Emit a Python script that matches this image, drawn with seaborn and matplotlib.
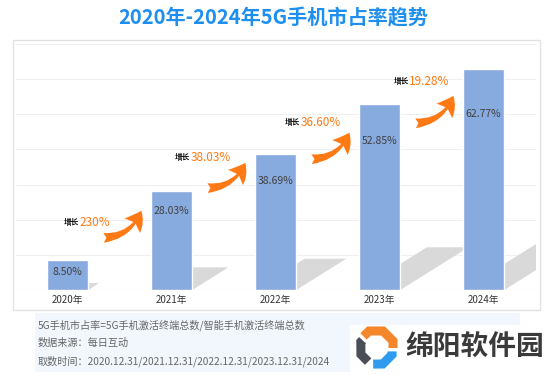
import numpy as np
import pandas as pd
import seaborn as sns
import matplotlib.pyplot as plt
from matplotlib.patches import Polygon, Rectangle, FancyArrowPatch

# ---- data ----
years = ['2020年', '2021年', '2022年', '2023年', '2024年']
share = [8.50, 28.03, 38.69, 52.85, 62.77]
growth = ['230%', '38.03%', '36.60%', '19.28%']
title = '2020年-2024年5G手机市占率趋势'
notes = ['5G手机市占率=5G手机激活终端总数/智能手机激活终端总数',
         '数据来源：每日互动',
         '取数时间：2020.12.31/2021.12.31/2022.12.31/2023.12.31/2024']
brand = '绵阳软件园'

sns.set_theme(style='white')
plt.rcParams['font.family'] = ['Noto Sans CJK SC', 'DejaVu Sans']

W, H = 550, 375
fig = plt.figure(figsize=(W / 100, H / 100), dpi=100)
fig.patch.set_facecolor('white')


def fx(px):
    return px / W


def fy(py):
    return 1 - py / H


# panel border
fig.add_artist(Rectangle((fx(13), fy(310)), (540 - 13) / W, (310 - 40) / H,
                         transform=fig.transFigure, fill=False,
                         ec='#E3E3E3', lw=1, zorder=-1))

ax = fig.add_axes([fx(15.5), fy(290), 520 / W, 246 / H])
df = pd.DataFrame({'year': years, 'share': share})
sns.barplot(data=df, x='year', y='share', color='#88ABDF', saturation=1,
            width=0.4, ax=ax, zorder=3)
ax.set_xlim(-0.5, 4.5)
ax.set_ylim(0, 70)
ax.set_yticks(range(0, 71, 10))
ax.yaxis.grid(True, color='#EFEFEF', lw=0.8)
ax.set_axisbelow(True)
ax.tick_params(left=False, bottom=False, labelleft=False, labelsize=7,
               colors='#333333', pad=3.5, length=0)
for s in ax.spines.values():
    s.set_visible(False)
ax.axhline(0, color='#E2E2E2', lw=0.8, zorder=1)
ax.set_xlabel('')
ax.set_ylabel('')
ax.patch.set_alpha(0)

# cast shadows
for i, v in enumerate(share):
    dx = 0.0124 * v
    dy = 0.23 * v
    poly = Polygon([(i - 0.2, 0), (i + 0.2, 0), (i + 0.2 + dx, dy), (i - 0.2 + dx, dy)],
                   closed=True, fc='#D9D9D9', ec='none', zorder=2)
    ax.add_patch(poly)

# value labels
for i, v in enumerate(share):
    ax.text(i, min(0.8 * v, v - 3.4), f'{v:.2f}%', ha='center', va='center',
            fontsize=7.5, color='#404040', zorder=5)

# growth arrows: (tail y, head y, text y, text split x offset)
layout = [(14.8, 23.3, 19.3, 0.11), (29.0, 36.9, 37.8, 0.18),
          (37.2, 45.5, 47.7, 0.24), (47.4, 56.0, 59.4, 0.28)]
orange = '#FF7A14'
for i, (ty, hy, tey, sx) in enumerate(layout):
    arr = FancyArrowPatch(posA=(i + 0.32, ty), posB=(i + 0.72, hy),
                          arrowstyle='fancy,head_length=0.9,head_width=1.1,tail_width=0.5',
                          connectionstyle='arc3,rad=0.35', mutation_scale=14,
                          color=orange, lw=0, zorder=4)
    ax.add_patch(arr)
    ax.text(i + sx, tey, '增长', ha='right', va='center', fontsize=5.5,
            fontweight='bold', color='#111111', zorder=5)
    ax.text(i + sx + 0.005, tey, growth[i], ha='left', va='center',
            fontsize=8.5, color=orange, zorder=5)

# title
fig.text(fx(273), fy(18), title, ha='center', va='center', fontsize=14.5,
         fontweight='bold', color='#1E8FEF')

# notes box
fig.add_artist(Rectangle((fx(35), fy(372)), (520 - 35) / W, 59 / H,
                         transform=fig.transFigure, fc='#F1F7FC', ec='none',
                         zorder=-1))
for k, (t, y) in enumerate(zip(notes, [325, 343, 361])):
    fig.text(fx(38), fy(y), t, ha='left', va='center', fontsize=7.3,
             color='#666666')

# brand logo
fig.add_artist(Rectangle((fx(350), fy(375)), 200 / W, 50 / H,
                         transform=fig.transFigure, fc='white', ec='none',
                         zorder=-0.5))
lax = fig.add_axes([fx(353), fy(371), 46 / W, 46 / H])
lax.set_zorder(2)
lax.set_xlim(-1, 1)
lax.set_ylim(-1, 1)
lax.axis('off')


def octa(a0, a1, r=0.72):
    th = np.linspace(a0, a1, 300)
    d = ((th + 22.5) % 45) - 22.5
    rr = r / np.cos(np.radians(d))
    return rr * np.cos(np.radians(th)), rr * np.sin(np.radians(th))


for (a0, a1, c, r) in [(137, 0, '#F5862A', 0.74), (150, 240, '#4A4F57', 0.66),
                       (-100, -12, '#2E9BF0', 0.70)]:
    xs, ys = octa(a0, a1, r)
    lax.plot(xs, ys, color=c, lw=6.5, solid_capstyle='butt', solid_joinstyle='miter')

fig.text(fx(405), fy(348), brand, ha='left', va='center', fontsize=20,
         fontweight='bold', color='#3A3A3A')

fig.savefig('out.png', dpi=100)
